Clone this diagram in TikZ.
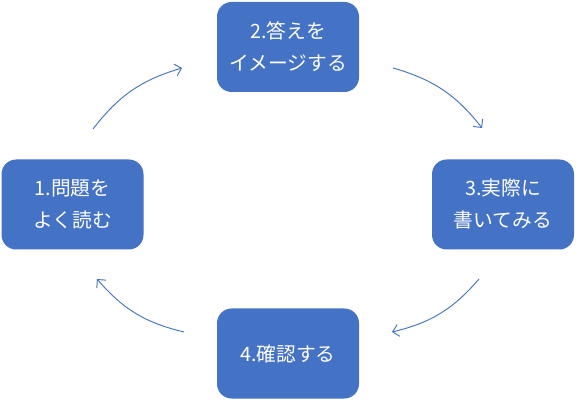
\documentclass[tikz,border=0pt]{standalone}
\usepackage{fontspec}
\setmainfont{Noto Sans CJK JP}
\usetikzlibrary{arrows.meta}
\definecolor{stepblue}{RGB}{68,114,196}

\begin{document}
\begin{tikzpicture}[x=0.75pt, y=0.75pt,
  box/.style={fill=stepblue, rounded corners=11pt, align=center, minimum width=106.5pt, minimum height=67.5pt, inner sep=0pt, text=white, font=\fontsize{14.8}{24}\selectfont},
  arr/.style={-{Straight Barb[length=1.6mm, width=3.2mm]}, draw=stepblue, line width=0.7pt}]
\useasboundingbox (0,0) rectangle (580,406);
\node[box] (img) at (288,359) {2.答えを\\イメージする};
\node[box] (rd) at (72.5,201.5) {1.問題を\\よく読む};
\node[box] (wr) at (503,201.5) {3.実際に\\書いてみる};
\node[box] (ck) at (288,52.5) {4.確認する};
% arc ends
\coordinate (a1) at (93,277); \coordinate (a2) at (182,338);
\coordinate (b1) at (393,338); \coordinate (b2) at (482,278);
\coordinate (c1) at (479,127); \coordinate (c2) at (392,74);
\coordinate (d1) at (184,74); \coordinate (d2) at (97,127);
\draw[arr] (a1) to[bend left=18] (a2);
\draw[arr] (b1) to[bend left=18] (b2);
\draw[arr] (c1) to[bend left=18] (c2);
\draw[arr] (d1) to[bend left=18] (d2);
\end{tikzpicture}
\end{document}
